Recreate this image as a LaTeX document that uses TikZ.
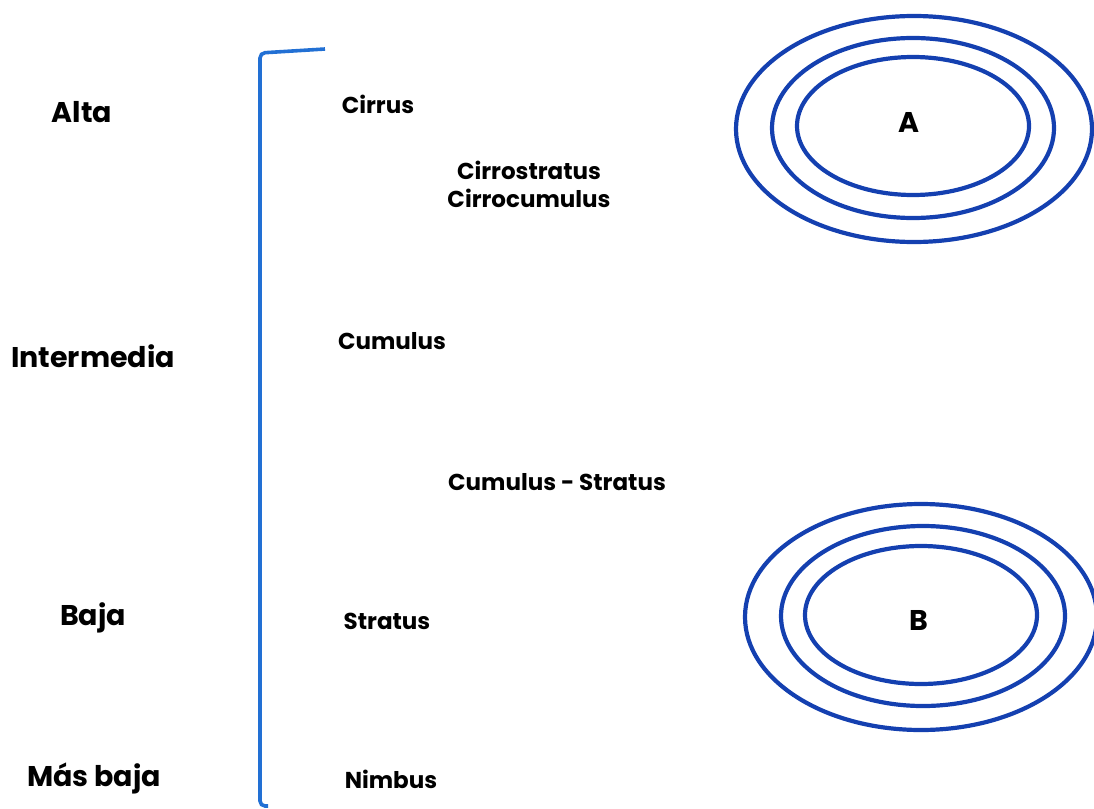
\documentclass[tikz,border=0pt]{standalone}
\usepackage{fontspec}
\setmainfont{Poppins}
\usepackage{tikz}
\definecolor{ringblue}{RGB}{20,64,176}
\definecolor{bracketblue}{RGB}{34,112,212}

\begin{document}
\begin{tikzpicture}[x=1pt,y=-1pt]
		\tikzstyle{level}=[font=\fontsize{28.5}{34}\selectfont\bfseries,text=black]
		\tikzstyle{cloud}=[font=\fontsize{23}{28}\selectfont\bfseries,text=black,align=center]
		\tikzstyle{ring}=[draw=ringblue,line width=4.2pt]
		\useasboundingbox (0,0) rectangle (1094,808);

		% heights
		\node[level] (alta) at (82,112) {Alta};
		\node[level] (intermedia) at (93,356) {Intermedia};
		\node[level] (baja) at (93,618) {Baja};
		\node[level] (masbaja) at (94,778) {Más baja};

		% clouds
		\node[cloud] (cirrus) at (378,104) {Cirrus};
		\node[cloud] (cirro) at (529,184) {Cirrostratus\\Cirrocumulus};
		\node[cloud] (cumulus) at (392,341) {Cumulus};
		\node[cloud] (cumstrat) at (557,482) {Cumulus - Stratus};
		\node[cloud] (stratus) at (387,621) {Stratus};
		\node[cloud] (nimbus) at (391,779) {Nimbus};

		\draw[draw=bracketblue,line width=3.6pt,rounded corners=5pt] (325,49) -- (260,53) -- (260,806) -- (268,806);

		% pressure centres
		\node[level] (A) at (909,122) {A};
		\node[level] (B) at (919,620) {B};

		\draw[ring] (914,129) ellipse (178 and 113);
		\draw[ring] (913,128) ellipse (141 and 90);
		\draw[ring] (913,126) ellipse (116 and 69);

		\draw[ring] (921,617) ellipse (176 and 113);
		\draw[ring] (923,616) ellipse (142 and 90);
		\draw[ring] (921,615) ellipse (116 and 69);

		\end{tikzpicture}
\end{document}
